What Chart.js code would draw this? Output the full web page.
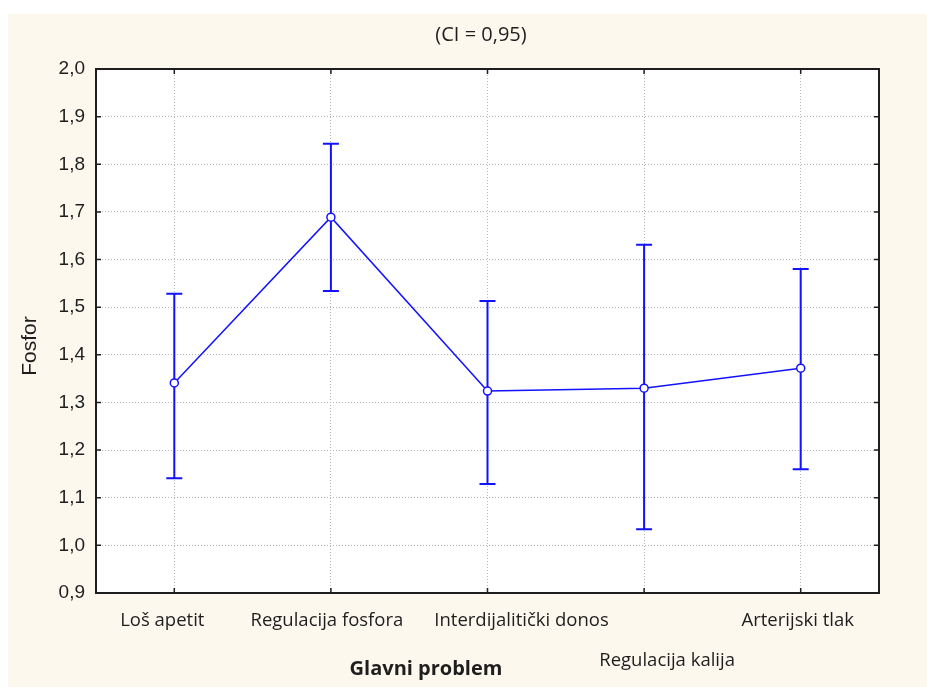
<!DOCTYPE html>
<html>
<head>
<meta charset="utf-8">
<script src="https://cdn.jsdelivr.net/npm/chart.js@4.4.1/dist/chart.umd.min.js"></script>
<style>
  html, body { margin: 0; padding: 0; background: #fff; }
  #wrap { width: 927px; height: 687px; }
</style>
</head>
<body>
<div id="wrap"><canvas id="chart" width="927" height="687"></canvas></div>
<script>
// categories + means with 95% CI bounds
const categories = ['Loš apetit', 'Regulacija fosfora', 'Interdijalitički donos', 'Regulacija kalija', 'Arterijski tlak'];
const means  = [1.341, 1.689, 1.324, 1.330, 1.372];
const lower  = [1.141, 1.534, 1.129, 1.034, 1.160];
const upper  = [1.528, 1.843, 1.513, 1.631, 1.580];
const yTicks = [0.9, 1.0, 1.1, 1.2, 1.3, 1.4, 1.5, 1.6, 1.7, 1.8, 1.9, 2.0];

const BLUE  = '#1212ff';
const CREAM = '#fdf8ee';
const INK   = '#1e1e1e';

const fmt = v => v.toFixed(1).replace('.', ',');

// statistica places some category labels off-centre / on a second row
const labelNudge = [-12, -4, 34, 23, -3];
const labelRow   = [0, 0, 0, 1, 0];

const statPlugin = {
  id: 'stat',
  beforeDraw(chart) {
    const ctx = chart.ctx;
    ctx.save();
    ctx.fillStyle = '#fff';
    ctx.fillRect(0, 0, chart.width, chart.height);
    ctx.fillStyle = CREAM;
    ctx.fillRect(8, 14, chart.width - 8, chart.height - 14);
    const a = chart.chartArea;
    ctx.fillStyle = '#fff';
    ctx.fillRect(a.left, a.top, a.right - a.left, a.bottom - a.top);
    ctx.restore();
  },
  beforeDatasetsDraw(chart) {
    // CI whiskers
    const ctx = chart.ctx;
    const x = chart.scales.x, y = chart.scales.y;
    ctx.save();
    ctx.strokeStyle = BLUE;
    ctx.lineWidth = 2;
    means.forEach((m, i) => {
      const px = x.getPixelForValue(i);
      const yl = y.getPixelForValue(lower[i]);
      const yu = y.getPixelForValue(upper[i]);
      ctx.beginPath();
      ctx.moveTo(px, yl); ctx.lineTo(px, yu);
      ctx.moveTo(px - 8, yl); ctx.lineTo(px + 8, yl);
      ctx.moveTo(px - 8, yu); ctx.lineTo(px + 8, yu);
      ctx.stroke();
    });
    ctx.restore();
  },
  afterDraw(chart) {
    const ctx = chart.ctx;
    const a = chart.chartArea;
    const x = chart.scales.x, y = chart.scales.y;
    ctx.save();

    // frame + inward ticks
    ctx.strokeStyle = INK;
    ctx.lineWidth = 2;
    ctx.strokeRect(a.left, a.top, a.right - a.left, a.bottom - a.top);
    ctx.lineWidth = 1.5;
    ctx.beginPath();
    y.ticks.forEach((t, i) => {
      const py = y.getPixelForTick(i);
      ctx.moveTo(a.left, py); ctx.lineTo(a.left + 5, py);
      ctx.moveTo(a.right, py); ctx.lineTo(a.right - 5, py);
    });
    categories.forEach((c, i) => {
      const px = x.getPixelForValue(i);
      ctx.moveTo(px, a.top); ctx.lineTo(px, a.top + 5);
      ctx.moveTo(px, a.bottom); ctx.lineTo(px, a.bottom - 5);
    });
    ctx.stroke();

    ctx.fillStyle = INK;
    ctx.textAlign = 'center';
    ctx.textBaseline = 'middle';

    // category labels
    ctx.font = '18.5px "Open Sans"';
    categories.forEach((c, i) => {
      ctx.fillText(c, x.getPixelForValue(i) + labelNudge[i], a.bottom + 28 + labelRow[i] * 40);
    });

    // titles
    ctx.font = '20px "Open Sans"';
    ctx.fillText('(CI = 0,95)', 481, 35);
    ctx.font = 'bold 20px "Open Sans"';
    ctx.fillText('Glavni problem', 426, 669);

    ctx.translate(30, 346);
    ctx.rotate(-Math.PI / 2);
    ctx.font = '21px "Liberation Sans"';
    ctx.fillText('Fosfor', 0, 0);
    ctx.restore();
  }
};

new Chart(document.getElementById('chart'), {
  type: 'line',
  data: {
    labels: categories,
    datasets: [{
      data: means,
      borderColor: BLUE,
      borderWidth: 1.5,
      backgroundColor: '#fff',
      pointBackgroundColor: '#fff',
      pointBorderColor: BLUE,
      pointBorderWidth: 1.5,
      pointRadius: 4,
      tension: 0
    }]
  },
  options: {
    responsive: false,
    animation: false,
    layout: { padding: { left: 0, right: 48, top: 69, bottom: 0 } },
    plugins: {
      legend: { display: false },
      tooltip: { enabled: false },
      title: { display: false }
    },
    scales: {
      x: {
        type: 'category',
        offset: true,
        grid: { offset: false, color: '#b4b4b4', drawTicks: false },
        border: { display: false, dash: [1, 2] },
        ticks: { display: false },
        afterFit(s) { s.height = 94; }
      },
      y: {
        min: 0.9,
        max: 2.0,
        afterBuildTicks(s) { s.ticks = yTicks.map(v => ({ value: v })); },
        grid: { color: '#b4b4b4', drawTicks: false },
        border: { display: false, dash: [1, 2] },
        ticks: {
          padding: 11,
          color: INK,
          font: { family: '"Liberation Sans"', size: 19 },
          callback: v => fmt(v)
        },
        afterFit(s) { s.width = 96; }
      }
    }
  },
  plugins: [statPlugin]
});
</script>
</body>
</html>
